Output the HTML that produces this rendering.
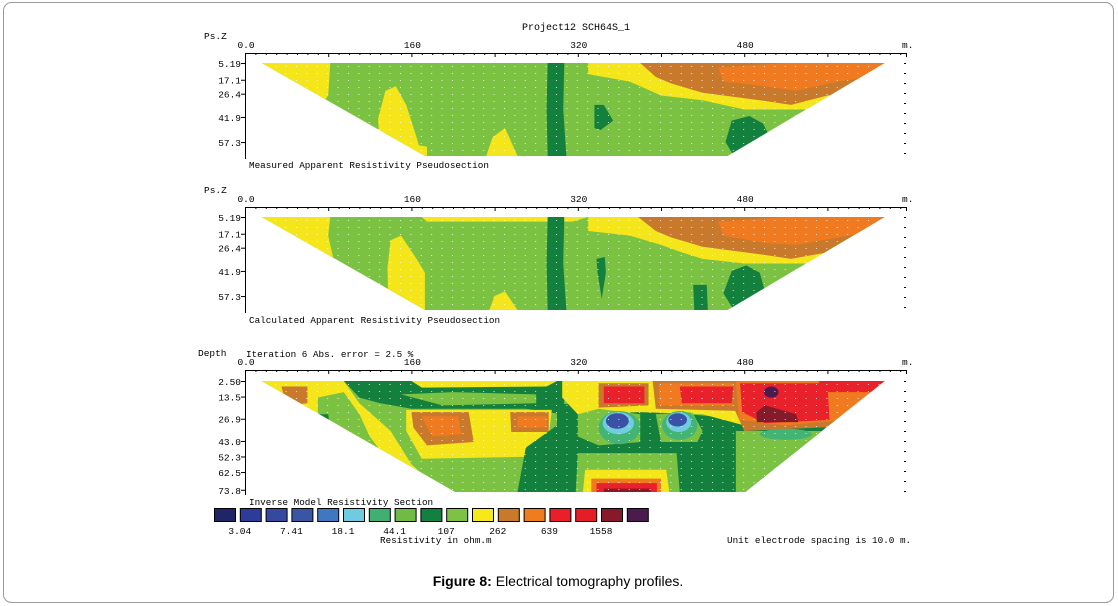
<!DOCTYPE html>
<html><head><meta charset="utf-8">
<style>
html,body{margin:0;padding:0;background:#fff;}
svg{display:block;font-family:"Liberation Mono",monospace;}
</style></head>
<body>
<svg id="chart" width="1118" height="606" viewBox="0 0 1118 606">
<rect x="3.5" y="2.5" width="1110" height="600" rx="8" fill="#fff" stroke="#9a9a9a"/>
<text x="576" y="30" font-size="10" text-anchor="middle">Project12 SCH64S_1</text>
<text x="558" y="586" font-size="14" text-anchor="middle" font-family="Liberation Sans, sans-serif"><tspan font-weight="bold">Figure 8:</tspan> Electrical tomography profiles.</text>
<g id="panels"></g>
<g id="legend"></g>
</svg>
<script>
const NS='http://www.w3.org/2000/svg';
const C={y:'#f4e61a',lg:'#7cc242',dg:'#14803e',br:'#c9792b',or:'#f07a20',rd:'#e8212a',dr:'#851a2b',pu:'#4a1a50',bl:'#3a52a6',cy:'#70cde0',tg:'#44b474'};
const xTicksLabels=['0.0','160','320','480'];
const xTickValues=[0,160,320,480];
const p1DepthLabels=['5.19','17.1','26.4','41.9','57.3'];
const p1DepthFrac=[0,0.18,0.33,0.58,0.85];
const p3DepthLabels=['2.50','13.5','26.9','43.0','52.3','62.5','73.8'];
const p3DepthFrac=[0,0.14,0.34,0.54,0.68,0.82,0.98];
const legendColors=['#1f2566','#2c3c98','#3549a0','#3a55a4','#3f78c0','#6fcbe0','#40b070','#6fbb45','#148040','#7dc242','#f5e91a','#c8792a','#f07c20','#e8202a','#e51e25','#861a2a','#4b1a4e'];
const legendLabels=['3.04','7.41','18.1','44.1','107','262','639','1558'];
const regions1=[
 ['p','y',[[0,0],[82,0],[80,0.35],[70,0.5],[90,1],[0,1]]],
 ['p','y',[[135,0.3],[145,0.25],[155,0.45],[165,0.8],[170,1],[130,1],[128,0.6]]],
 ['p','y',[[150,0.85],[175,0.9],[175,1],[150,1]]],
 ['p','y',[[238,0.8],[250,0.7],[262,1],[232,1]]],
 ['p','y',[[330,0],[620,0],[620,0.55],[570,0.58],[540,0.5],[480,0.5],[440,0.4],[400,0.35],[370,0.2],[330,0.12]]],
 ['p','br',[[380,0],[620,0],[620,0.28],[560,0.35],[525,0.45],[495,0.4],[440,0.32],[410,0.22],[395,0.15]]],
 ['p','or',[[455,0.05],[520,0],[620,0],[620,0.12],[570,0.2],[530,0.3],[500,0.25],[460,0.2]]],
 ['p','dg',[[291,0],[307,0],[306,0.5],[309,1],[291,1],[290,0.5]]],
 ['p','dg',[[336,0.45],[345,0.45],[354,0.62],[342,0.72],[336,0.7]]],
 ['p','dg',[[468,0.62],[485,0.57],[498,0.65],[505,0.8],[470,1],[462,0.85]]]
];
const regions2=[
 ['p','y',[[0,0],[82,0],[80,0.2],[85,0.45],[100,0.6],[95,1],[0,1]]],
 ['p','y',[[140,0.25],[150,0.2],[165,0.45],[173,0.6],[173,1],[138,1],[137,0.55]]],
 ['p','y',[[240,0.85],[250,0.8],[262,1],[235,1]]],
 ['p','y',[[170,0],[330,0],[315,0.05],[270,0.05],[175,0.05]]],
 ['p','y',[[330,0],[620,0],[620,0.55],[570,0.58],[540,0.5],[480,0.5],[440,0.45],[420,0.38],[400,0.3],[370,0.2],[330,0.15]]],
 ['p','br',[[378,0],[620,0],[620,0.3],[560,0.38],[525,0.45],[495,0.4],[440,0.32],[410,0.22],[395,0.15]]],
 ['p','or',[[455,0.05],[520,0],[620,0],[620,0.12],[570,0.22],[530,0.3],[500,0.28],[460,0.2]]],
 ['p','dg',[[291,0],[307,0],[306,0.5],[309,1],[291,1],[290,0.5]]],
 ['p','dg',[[338,0.45],[346,0.43],[347,0.6],[343,0.88],[339,0.6]]],
 ['p','dg',[[431,0.73],[444,0.73],[445,1],[432,1]]],
 ['p','dg',[[468,0.58],[482,0.52],[495,0.6],[500,0.8],[470,1],[460,0.82]]]
];
const regions3=[
 ['p','y',[[0,0],[95,0],[110,0.2],[140,0.45],[160,0.75],[190,1],[0,1]]],
 ['p','lg',[[70,0.15],[95,0.1],[110,0.3],[120,0.5],[140,0.75],[170,1],[100,1],[85,0.6],[70,0.4]]],
 ['p','br',[[35,0.05],[60,0.05],[60,0.2],[40,0.22]]],
 ['p','dg',[[58,0.3],[80,0.3],[82,0.44],[60,0.44]]],
 ['p','dg',[[95,0],[310,0],[305,0.3],[270,0.25],[200,0.25],[160,0.25],[130,0.2],[110,0.15]]],
 ['p','y',[[160,0],[300,0],[290,0.05],[170,0.06]]],
 ['p','lg',[[150,0.12],[200,0.1],[280,0.12],[280,0.2],[190,0.22]]],
 ['p','y',[[155,0.26],[295,0.26],[290,0.68],[170,0.7],[155,0.45]]],
 ['p','br',[[160,0.28],[215,0.28],[220,0.55],[175,0.58],[162,0.42]]],
 ['p','or',[[170,0.32],[205,0.32],[208,0.48],[180,0.5]]],
 ['p','br',[[255,0.28],[292,0.28],[292,0.46],[256,0.46]]],
 ['p','or',[[262,0.32],[290,0.32],[290,0.42],[262,0.42]]],
 ['p','dg',[[300,0.2],[490,0.35],[620,0.35],[620,1],[262,1],[270,0.6],[300,0.4]]],
 ['p','y',[[305,0],[620,0],[620,0.35],[480,0.4],[440,0.3],[380,0.28],[320,0.3],[305,0.15]]],
 ['p','lg',[[320,0.3],[340,0.25],[380,0.3],[380,0.55],[340,0.58],[320,0.5]]],
 ['p','lg',[[395,0.3],[430,0.28],[440,0.45],[435,0.55],[400,0.55]]],
 ['e','tg',[360,0.42,20,0.15]],['e','tg',[418,0.4,17,0.13]],
 ['e','cy',[359,0.38,15,0.1]],['e','cy',[417,0.37,12,0.09]],
 ['e','bl',[358,0.36,11,0.07]],['e','bl',[416,0.35,9,0.06]],
 ['p','br',[[340,0.02],[388,0.02],[388,0.22],[340,0.24]]],
 ['p','rd',[[345,0.05],[384,0.05],[384,0.2],[345,0.2]]],
 ['p','br',[[392,0],[480,0],[478,0.27],[395,0.25]]],
 ['p','or',[[398,0.02],[475,0.02],[475,0.22],[398,0.22]]],
 ['p','rd',[[418,0.05],[470,0.05],[470,0.2],[420,0.2]]],
 ['p','br',[[470,0],[620,0],[600,0.4],[480,0.45],[468,0.2]]],
 ['p','or',[[472,0],[620,0],[598,0.33],[520,0.4],[475,0.35]]],
 ['p','rd',[[476,0.02],[560,0.02],[562,0.35],[500,0.38],[478,0.28]]],
 ['p','rd',[[552,0],[620,0],[612,0.1],[552,0.1]]],
 ['p','dr',[[492,0.28],[500,0.22],[530,0.3],[532,0.37],[492,0.37]]],
 ['e','pu',[506,0.1,7,0.05]],
 ['p','lg',[[472,0.45],[560,0.45],[560,1],[472,1]]],
 ['e','tg',[520,0.48,25,0.05]],
 ['p','lg',[[320,0.65],[415,0.65],[418,1],[318,1]]],
 ['p','y',[[327,0.8],[405,0.8],[408,1],[325,1]]],
 ['p','or',[[333,0.88],[400,0.88],[400,1],[333,1]]],
 ['p','rd',[[338,0.92],[396,0.92],[396,1],[338,1]]],
 ['p','dr',[[345,0.97],[390,0.97],[390,1],[345,1]]]
];
const panels=[
 {axisY:53,top:63,bot:156,botL:173,botR:464,regions:regions1,dl:p1DepthLabels,df:p1DepthFrac,yt:'Ps.Z',caption:'Measured Apparent Resistivity Pseudosection',capY:168,base:'lg',name:'measured'},
 {axisY:207,top:217,bot:310,botL:173,botR:464,regions:regions2,dl:p1DepthLabels,df:p1DepthFrac,yt:'Ps.Z',caption:'Calculated Apparent Resistivity Pseudosection',capY:323,base:'lg',name:'calculated'},
 {axisY:370,top:381,bot:492,botL:202,botR:481,regions:regions3,dl:p3DepthLabels,df:p3DepthFrac,yt:'Depth',caption:'Inverse Model Resistivity Section',capY:505,base:'lg',name:'inverse'}
];
const X0=245,XS=1.04,XL=16,XR=615;
const xs=m=>X0+m*XS;
const root=document.getElementById('panels');
function mk(tag,attrs,parent){const e=document.createElementNS(NS,tag);for(const k in attrs)e.setAttribute(k,attrs[k]);parent.appendChild(e);return e;}
panels.forEach((p,i)=>{
 const ys=f=>p.top+f*(p.bot-p.top);
 const g=mk('g',{},root);
 
 
 const cid='clip'+i;
 const cp=mk('clipPath',{id:cid},g);
 const trap=`${xs(XL)},${p.top} ${xs(XR)},${p.top} ${xs(p.botR)},${p.bot} ${xs(p.botL)},${p.bot}`;
 mk('polygon',{points:trap},cp);
 const sec=mk('g',{'clip-path':`url(#${cid})`},g);
 
 
 mk('rect',{x:xs(XL),y:p.top,width:xs(XR)-xs(XL),height:p.bot-p.top,fill:C[p.base]},sec);
 p.regions.forEach(r=>{
  let el;
  if(r[0]==='p'){el=mk('polygon',{points:r[2].map(q=>xs(q[0])+','+ys(q[1])).join(' '),fill:C[r[1]]},sec);}
  else{const d=r[2];el=mk('ellipse',{cx:xs(d[0]),cy:ys(d[1]),rx:d[2]*XS,ry:d[3]*(p.bot-p.top),fill:C[r[1]]},sec);}
  
  
 });
 for(let yy=p.top+3;yy<p.bot;yy+=7){for(let m=XL+3;m<XR;m+=10){mk('rect',{x:xs(m),y:yy,width:1,height:1,fill:'#fff',opacity:0.8},sec);}}
 const ax=mk('g',{stroke:'#000','stroke-width':1},g);
 
 
 mk('line',{x1:X0,y1:p.axisY+0.5,x2:906,y2:p.axisY+0.5},ax);
 for(let m=0;m<=635;m+=10){const big=m%80===0;mk('line',{x1:xs(m)+0.5,y1:p.axisY,x2:xs(m)+0.5,y2:p.axisY+(big?4:2)},ax);}
 mk('line',{x1:X0+0.5,y1:p.axisY,x2:X0+0.5,y2:p.bot+3},ax);
 mk('line',{x1:906.5,y1:p.axisY,x2:906.5,y2:p.axisY+4},ax);
 for(let yy=p.top;yy<=p.bot;yy+=10){mk('line',{x1:904,y1:yy+0.5,x2:906,y2:yy+0.5},ax);}
 xTickValues.forEach((v,k)=>{const t=mk('text',{x:xs(v)+1,y:p.axisY-5,'font-size':9.5,'text-anchor':'middle'},g);t.textContent=xTicksLabels[k];
  });
 const mt=mk('text',{x:902,y:p.axisY-5,'font-size':9.5},g);mt.textContent='m.';
 
 const yt=mk('text',{x:p.yt==='Ps.Z'?204:198,y:p.axisY-14,'font-size':9.5},g);yt.textContent=p.yt;
 
 p.dl.forEach((l,k)=>{const y=ys(p.df[k]);const t=mk('text',{x:241,y:y+4,'font-size':9.5,'text-anchor':'end'},g);t.textContent=l;
  
  mk('line',{x1:241,y1:y+0.5,x2:245,y2:y+0.5,stroke:'#000'},g);});
 const cap=mk('text',{x:249,y:p.capY,'font-size':9.3},g);cap.textContent=p.caption;
 
});
const it=mk('text',{x:246,y:357,'font-size':9.3},root);it.textContent='Iteration 6 Abs. error = 2.5 %';

const lg=document.getElementById('legend');


const LX=214,LW=25.8;
legendColors.forEach((c,k)=>{const r=mk('rect',{x:LX+k*LW+0.5,y:508.5,width:21,height:13,fill:c,stroke:'#000'},lg);
 });
legendLabels.forEach((l,k)=>{const t=mk('text',{x:LX+(k*2+1)*LW,y:534,'font-size':9.5,'text-anchor':'middle'},lg);t.textContent=l;
 });
const ru=mk('text',{x:380,y:543,'font-size':9.3},lg);ru.textContent='Resistivity in ohm.m';

const sp=mk('text',{x:727,y:543,'font-size':9.3},lg);sp.textContent='Unit electrode spacing is 10.0 m.';

</script>
</body></html>
